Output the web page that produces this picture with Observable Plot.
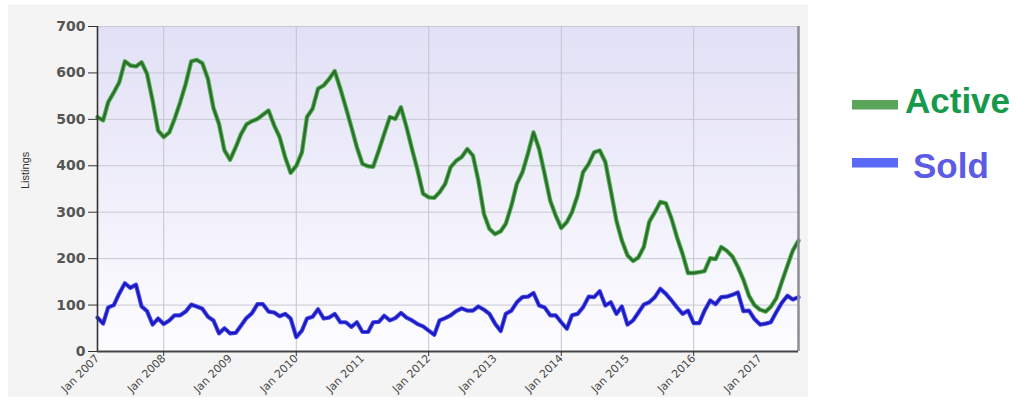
<!DOCTYPE html>
<html>
<head>
<meta charset="utf-8">
<script src="https://cdn.jsdelivr.net/npm/d3@7"></script>
<script src="https://cdn.jsdelivr.net/npm/@observablehq/plot@0.6"></script>
<style>
  body { margin: 0; background: #ffffff; }
  #chart { width: 1016px; height: 402px; }
</style>
</head>
<body>
<div id="chart"></div>
<script>
// Monthly listings, Jan 2007 – Aug 2017
const active = [
  505, 498, 537, 558, 580, 625, 616, 614, 623, 598, 540, 476, // 2007
  462, 472, 501, 537, 576, 625, 628, 621, 587, 525, 490, 433, // 2008
  413, 440, 467, 489, 496, 501, 510, 519, 487, 462, 418, 385, // 2009
  400, 429, 505, 523, 566, 573, 587, 604, 566, 526, 483, 440, // 2010
  404, 399, 398, 433, 469, 505, 501, 526, 483, 436, 390, 340, // 2011
  332, 331, 343, 361, 397, 411, 419, 436, 422, 368, 296, 264, // 2012
  253, 259, 275, 314, 361, 386, 426, 472, 436, 383, 325, 293, // 2013
  266, 279, 300, 336, 386, 404, 429, 433, 408, 347, 282, 239, // 2014
  207, 195, 202, 225, 279, 300, 322, 319, 286, 246, 210, 169, // 2015
  169, 171, 173, 201, 199, 225, 217, 205, 182, 155, 120, 100, // 2016
  90, 86, 96, 115, 150, 185, 218, 239                           // 2017
];
const sold = [
  73, 60, 95, 100, 125, 147, 137, 144, 97, 87, 58, 71,   // 2007
  59, 67, 78, 78, 86, 101, 97, 92, 75, 67, 39, 50,       // 2008
  39, 40, 55, 72, 82, 102, 102, 86, 84, 76, 81, 71,      // 2009
  31, 45, 71, 75, 91, 71, 73, 81, 63, 63, 53, 63,        // 2010
  42, 42, 63, 64, 77, 67, 72, 83, 73, 67, 59, 54,        // 2011
  45, 36, 67, 72, 78, 87, 93, 88, 88, 97, 90, 81,        // 2012
  60, 44, 81, 88, 106, 117, 118, 126, 99, 95, 78, 78,    // 2013
  63, 49, 78, 81, 95, 118, 117, 130, 99, 106, 81, 97,    // 2014
  58, 67, 83, 101, 106, 117, 135, 124, 110, 95, 81, 88,  // 2015
  61, 61, 88, 110, 102, 117, 118, 122, 127, 87, 88, 70,  // 2016
  58, 60, 63, 85, 105, 120, 112, 117                     // 2017
];
const tickYears = [2007, 2008, 2009, 2010, 2011, 2012, 2013, 2014, 2015, 2016, 2017];
const gridYears = [2008, 2010, 2012, 2014, 2016];
const yTicks = [0, 100, 200, 300, 400, 500, 600, 700];
const seriesNames = ["Active", "Sold"];

const months = active.map((_, i) => new Date(Date.UTC(2007, i, 1)));
const activeRows = months.map((d, i) => ({date: d, value: active[i]}));
const soldRows = months.map((d, i) => ({date: d, value: sold[i]}));
const jan = y => new Date(Date.UTC(y, 0, 1));
const xStart = months[0];
const xEnd = months[months.length - 1];

const plot = Plot.plot({
  width: 1016,
  height: 402,
  marginLeft: 97,
  marginRight: 218,
  marginTop: 26,
  marginBottom: 51,
  style: {background: "transparent", fontFamily: "DejaVu Sans, sans-serif", overflow: "visible"},
  x: {type: "utc", domain: [xStart, xEnd]},
  y: {domain: [0, 700]},
  marks: [
    Plot.frame({fill: "url(#plotbg)", stroke: null}),
    Plot.gridY(yTicks, {stroke: "#c8c8d2", strokeOpacity: 1, strokeWidth: 1}),
    Plot.gridX(gridYears.map(jan), {stroke: "#c4c4ce", strokeOpacity: 1, strokeWidth: 1}),
    Plot.line(activeRows, {x: "date", y: "value", stroke: "#55b255", strokeWidth: 4.4}),
    Plot.line(activeRows, {x: "date", y: "value", stroke: "#2c6e2c", strokeWidth: 2.4}),
    Plot.line(soldRows, {x: "date", y: "value", stroke: "#4a4af5", strokeWidth: 4.2}),
    Plot.line(soldRows, {x: "date", y: "value", stroke: "#1a1ab8", strokeWidth: 2.2}),
    Plot.ruleX([xEnd], {stroke: "#8c8c94", strokeWidth: 2.5}),
    Plot.ruleX([xStart], {stroke: "#333333", strokeWidth: 1.6}),
    Plot.ruleY([0], {stroke: "#444444", strokeWidth: 2.2}),
    Plot.axisY(yTicks, {tickSize: 9, tickPadding: 3, fontSize: 14, fontWeight: "bold", fill: "#555", stroke: "#333", label: null}),
    Plot.axisX(gridYears.map(jan), {tickSize: 5, stroke: "#333", tickFormat: () => "", label: null}),
    Plot.axisX(tickYears.map(jan), {tickSize: 0, tickPadding: 5, tickRotate: -45, fontSize: 11, fill: "#4a4a4a",
      tickFormat: d => "Jan " + d.getUTCFullYear(), label: null}),
    Plot.text(["Listings"], {frameAnchor: "left", dx: -72, rotate: -90, fontSize: 11, fill: "#333",
      fontFamily: "Liberation Sans, Arial, sans-serif"})
  ]
});

const svg = d3.select(plot);
// gradient for plot background
const defs = svg.insert("defs", ":first-child");
const grad = defs.append("linearGradient").attr("id", "plotbg")
  .attr("x1", 0).attr("y1", 0).attr("x2", 0).attr("y2", 1);
grad.append("stop").attr("offset", 0).attr("stop-color", "#e2e0f6");
grad.append("stop").attr("offset", 1).attr("stop-color", "#fdfdff");
// gray panel behind chart
svg.insert("rect", "defs + *").attr("x", 8).attr("y", 5).attr("width", 800).attr("height", 392)
  .attr("fill", "#f4f4f4");

// legend
const legend = [
  {name: seriesNames[0], sw: "#5aa55a", tc: "#16994a", sy: 100, ty: 113, tx: 905},
  {name: seriesNames[1], sw: "#5b6af6", tc: "#5b5be6", sy: 158, ty: 178, tx: 913}
];
const lg = svg.append("g").attr("text-anchor", "start");
legend.forEach(l => {
  lg.append("rect").attr("x", 852).attr("y", l.sy).attr("width", 46).attr("height", 9.5).attr("fill", l.sw);
  lg.append("text").attr("x", l.tx).attr("y", l.ty).attr("fill", l.tc).attr("text-anchor", "start")
    .attr("font-family", "Liberation Sans, Arial, sans-serif").attr("font-weight", "bold")
    .attr("font-size", 35).text(l.name);
});

document.getElementById("chart").appendChild(plot);
</script>
</body>
</html>
